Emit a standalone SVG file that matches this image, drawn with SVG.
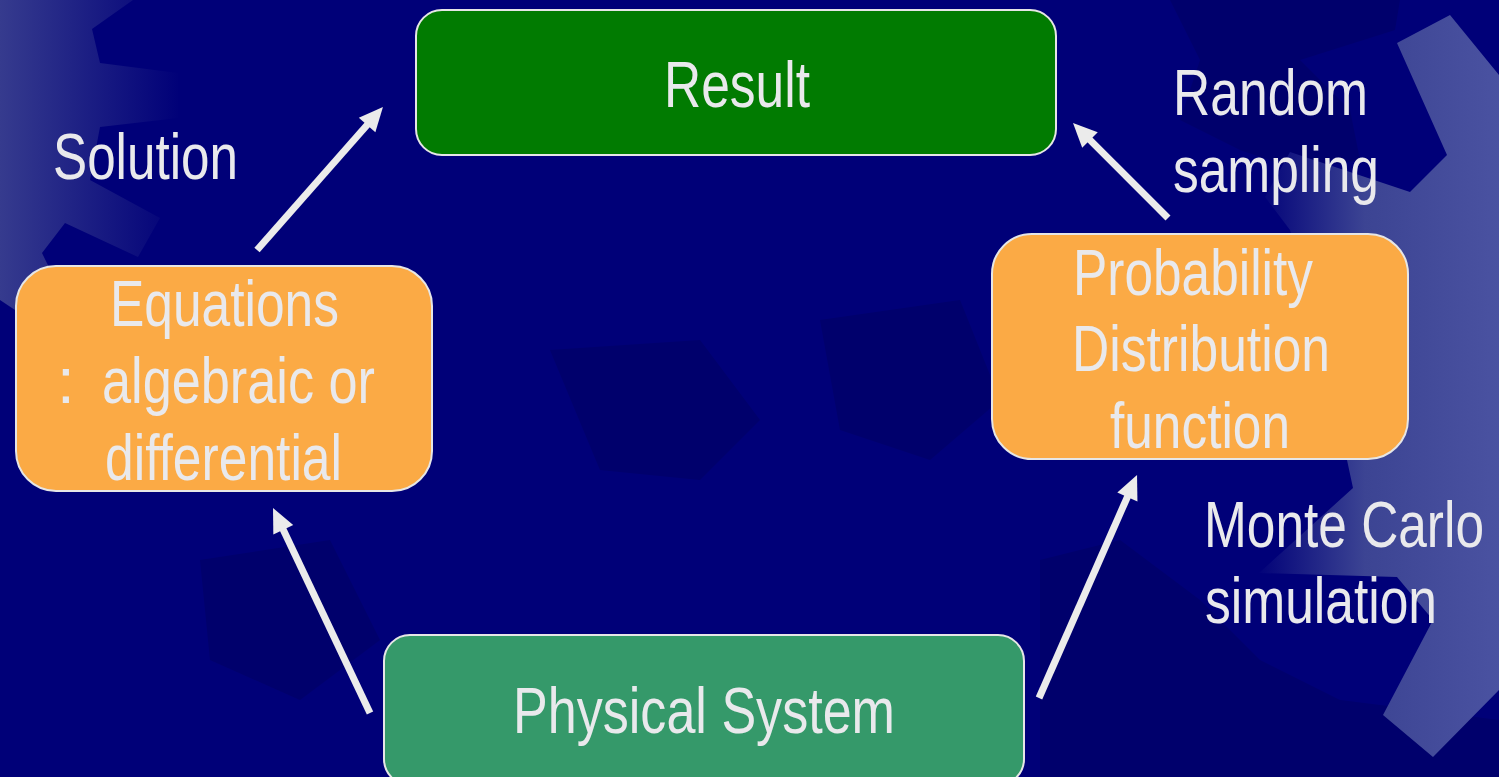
<svg xmlns="http://www.w3.org/2000/svg" width="1499" height="777" viewBox="0 0 1499 777">
<style>
.t{font-family:"Liberation Sans",Arial,sans-serif;font-size:64px;fill:#e9e9ec}
.box{stroke:#e6e6e6;stroke-width:2}
.conn{stroke:#ebebeb;stroke-width:7;fill:none;marker-end:url(#ah)}
.dark{fill:#00006c}
</style>
<defs>
<marker id="ah" markerUnits="userSpaceOnUse" markerWidth="24" markerHeight="22" refX="10" refY="11" orient="auto" overflow="visible">
<path d="M0,0 L24,11 L0,22 z" fill="#ebebeb"/>
</marker>
<linearGradient id="gl" x1="0" y1="0" x2="180" y2="0" gradientUnits="userSpaceOnUse">
<stop offset="0" stop-color="#363b8e"/><stop offset="1" stop-color="#000078"/>
</linearGradient>
<linearGradient id="gr" x1="1255" y1="0" x2="1499" y2="0" gradientUnits="userSpaceOnUse">
<stop offset="0" stop-color="#000078"/><stop offset="0.45" stop-color="#3c4493"/><stop offset="1" stop-color="#4a52a1"/>
</linearGradient>
</defs>
<g id="background">
<rect width="1499" height="777" fill="#000078"/>
<polygon class="dark" points="1170,0 1400,0 1395,30 1300,60 1350,110 1360,160 1300,170 1240,150 1180,120 1200,60"/>
<polygon class="dark" points="1040,560 1120,540 1200,600 1260,660 1340,700 1499,720 1499,777 1040,777"/>
<polygon class="dark" points="550,350 700,340 760,420 700,480 600,470"/>
<polygon class="dark" points="820,320 960,300 1000,400 930,460 840,430"/>
<polygon class="dark" points="200,560 330,540 380,640 300,700 210,660"/>
<polygon fill="url(#gl)" points="0,0 133,0 92,29 100,63 178,73 178,118 100,127 90,180 160,218 138,257 65,223 42,253 60,290 30,320 0,300"/>
<polygon fill="url(#gr)" points="1397,43 1450,15 1499,75 1499,690 1433,757 1383,715 1433,620 1397,577 1259,573 1353,488 1347,460 1290,230 1265,197 1290,152 1410,192 1447,155"/>
</g>
<g id="connectors">
<line class="conn" x1="257" y1="250" x2="373.7" y2="117.5"/>
<line class="conn" x1="1168" y1="218" x2="1082.9" y2="132.9"/>
<line class="conn" x1="370" y1="713" x2="279" y2="520.7"/>
<line class="conn" x1="1039" y1="698" x2="1131.4" y2="487.8"/>
</g>
<g id="result">
<rect class="box" x="416" y="10" width="640" height="145" rx="26" fill="#017b01"/>
<text class="t" x="664" y="107" textLength="146" lengthAdjust="spacingAndGlyphs">Result</text>
</g>
<g id="equations">
<rect class="box" x="16" y="266" width="416" height="225" rx="40" fill="#fbaa45"/>
<text class="t" x="110" y="326" textLength="229" lengthAdjust="spacingAndGlyphs">Equations</text>
<text class="t" y="403"><tspan x="57">:</tspan><tspan x="102" textLength="273" lengthAdjust="spacingAndGlyphs">algebraic or</tspan></text>
<text class="t" x="105" y="480" textLength="237" lengthAdjust="spacingAndGlyphs">differential</text>
</g>
<g id="probability">
<rect class="box" x="992" y="234" width="416" height="225" rx="40" fill="#fbaa45"/>
<text class="t" x="1073" y="295" textLength="240" lengthAdjust="spacingAndGlyphs">Probability</text>
<text class="t" x="1072" y="371" textLength="258" lengthAdjust="spacingAndGlyphs">Distribution</text>
<text class="t" x="1110" y="448" textLength="180" lengthAdjust="spacingAndGlyphs">function</text>
</g>
<g id="physical">
<rect class="box" x="384" y="635" width="640" height="150" rx="26" fill="#35996a"/>
<text class="t" x="513" y="733" textLength="382" lengthAdjust="spacingAndGlyphs">Physical System</text>
</g>
<g id="labels">
<text class="t" x="53" y="179" textLength="185" lengthAdjust="spacingAndGlyphs">Solution</text>
<text class="t" x="1173" y="115" textLength="195" lengthAdjust="spacingAndGlyphs">Random</text>
<text class="t" x="1173" y="192" textLength="206" lengthAdjust="spacingAndGlyphs">sampling</text>
<text class="t" x="1204" y="547" textLength="280" lengthAdjust="spacingAndGlyphs">Monte Carlo</text>
<text class="t" x="1205" y="623" textLength="232" lengthAdjust="spacingAndGlyphs">simulation</text>
</g>
</svg>
